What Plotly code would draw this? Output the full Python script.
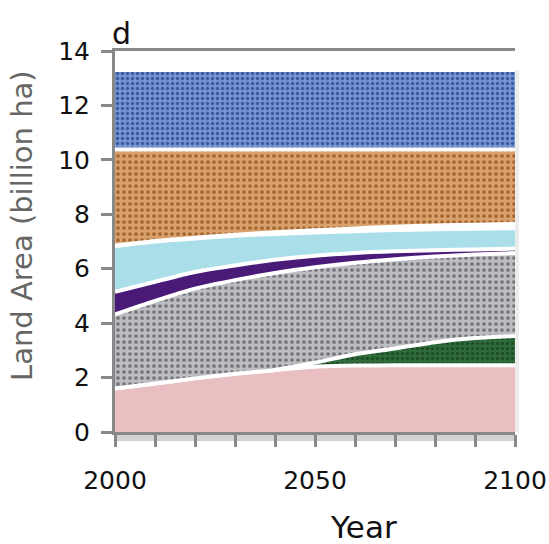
import plotly.graph_objects as go

years = [2000, 2010, 2020, 2030, 2040, 2050, 2060, 2070, 2080, 2090, 2100]

# layer thicknesses (billion ha), bottom to top
pink   = [1.60, 1.78, 1.97, 2.14, 2.28, 2.40, 2.44, 2.45, 2.45, 2.45, 2.45]
green  = [0.00, 0.00, 0.00, 0.00, 0.00, 0.15, 0.42, 0.62, 0.85, 1.00, 1.08]
gray   = [2.72, 3.04, 3.30, 3.44, 3.56, 3.50, 3.36, 3.28, 3.15, 3.07, 3.05]
purple = [0.83, 0.70, 0.61, 0.54, 0.49, 0.43, 0.36, 0.29, 0.23, 0.19, 0.16]
ltblue = [1.68, 1.48, 1.23, 1.09, 0.95, 0.85, 0.80, 0.78, 0.77, 0.76, 0.75]
gap    = [0.02, 0.02, 0.03, 0.04, 0.06, 0.08, 0.10, 0.12, 0.14, 0.15, 0.16]
orange = [3.53, 3.36, 3.24, 3.13, 3.04, 2.97, 2.90, 2.84, 2.79, 2.76, 2.73]
blue   = [2.92] * 11

x_tickvals = list(range(2000, 2101, 10))
x_ticktext = ["2000", "", "", "", "", "2050", "", "", "", "", "2100"]

FONT = "DejaVu Sans"
AX = "#888888"
TXT = "#111111"

layers = [
    ("pink", pink, "#e9bfc1", None),
    ("green", green, "#2f6a3a", dict(shape=".", bgcolor="#2f6a3a", fgcolor="#1b4a25", size=5, solidity=0.3)),
    ("gray", gray, "#b9babe", dict(shape=".", bgcolor="#bcbdc1", fgcolor="#74757b", size=6, solidity=0.3)),
    ("purple", purple, "#4a1a78", None),
    ("ltblue", ltblue, "#aadfe9", None),
    ("gap", gap, "#ffffff", None),
    ("orange", orange, "#d59e69", dict(shape=".", bgcolor="#d8a06b", fgcolor="#a3642f", size=6, solidity=0.3)),
    ("blue", blue, "#7290d0", dict(shape=".", bgcolor="#7594d3", fgcolor="#3b5a9c", size=5, solidity=0.35)),
]

fig = go.Figure()
for name, vals, col, pat in layers:
    kw = dict(
        x=years, y=vals, name=name, mode="lines", stackgroup="one",
        line=dict(color="white", width=4, shape="spline", smoothing=0.8),
        fillcolor=col, hoverinfo="skip", showlegend=False,
    )
    if pat:
        kw["fillpattern"] = dict(fillmode="replace", **pat)
    fig.add_trace(go.Scatter(**kw))

fig.update_layout(
    width=549, height=544,
    margin=dict(l=115, r=34, t=51, b=112),
    paper_bgcolor="white", plot_bgcolor="white",
    font=dict(family=FONT, color=TXT),
    xaxis=dict(
        range=[2000, 2100], tickmode="array", tickvals=x_tickvals, ticktext=x_ticktext,
        ticks="outside", ticklen=12, tickwidth=3, tickcolor=AX,
        showline=True, linewidth=3, linecolor=AX, mirror=True, automargin=False,
        showgrid=False, zeroline=False, tickfont=dict(size=25, family=FONT, color=TXT),
        ticklabelstandoff=12,
    ),
    yaxis=dict(
        range=[0, 14], dtick=2, ticks="outside", ticklen=11, tickwidth=3, tickcolor=AX,
        showline=True, linewidth=3, linecolor=AX, automargin=False,
        showgrid=False, zeroline=False, tickfont=dict(size=25, family=FONT, color=TXT),
        ticklabelstandoff=6,
    ),
    shapes=[
        dict(type="rect", xref="paper", yref="paper", x0=0, x1=1, y0=-9/381, y1=0,
             fillcolor="#d2d2d2", line=dict(width=0), layer="below"),
        dict(type="rect", xref="paper", yref="paper", x0=1.0, x1=1.0 + 4/400, y0=0, y1=13.3/14,
             fillcolor="#ececec", line=dict(width=0), layer="below"),
    ],
    annotations=[
        dict(text="d", xref="paper", yref="paper", x=6/400, y=(432-33)/381,
             xanchor="center", yanchor="middle", showarrow=False,
             font=dict(size=30, family=FONT, color=TXT)),
        dict(text="Year", xref="paper", yref="paper", x=(363-115)/400, y=(432-527)/381,
             xanchor="center", yanchor="middle", showarrow=False,
             font=dict(size=31, family=FONT, color=TXT)),
        dict(text="Land Area (billion ha)", xref="paper", yref="paper", x=(22-115)/400,
             y=(432-226)/381, xanchor="center", yanchor="middle", textangle=-90,
             showarrow=False, font=dict(size=29, family=FONT, color="#666666")),
    ],
)

fig.write_html("out.html")
